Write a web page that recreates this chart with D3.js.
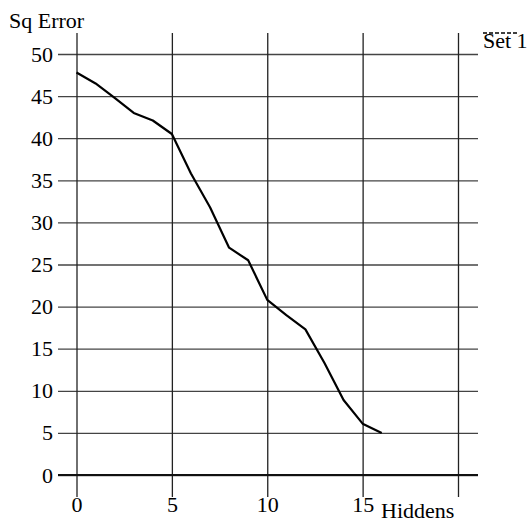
<!DOCTYPE html>
<html>
<head>
<meta charset="utf-8">
<script src="https://cdn.jsdelivr.net/npm/d3@7"></script>
<style>
  body { margin: 0; background: #fff; }
  svg { display: block; font-family: "Liberation Serif", "DejaVu Serif", serif; }
</style>
</head>
<body>
<div id="chart"></div>
<script>
// data
const hiddens = [0, 1, 2, 3, 4, 5, 6, 7, 8, 9, 10, 11, 12, 13, 14, 15, 16]
const sqError = [47.8, 46.5, 44.8, 43.0, 42.1, 40.5, 35.8, 31.8, 27.0, 25.5, 20.8, 19.0, 17.3, 13.3, 8.9, 6.1, 5.0]
const xTicks = [0, 5, 10, 15, 20]
const xLabelled = [0, 5, 10, 15]   // the last grid line has no label
const yTicks = [0, 5, 10, 15, 20, 25, 30, 35, 40, 45, 50]
const seriesName = "Set 1"

const width = 530, height = 523

const svg = d3.select("#chart").append("svg")
  .attr("width", width)
  .attr("height", height)

const x = d3.scaleLinear().domain([0, 20]).range([76.5, 458])
const y = d3.scaleLinear().domain([0, 50]).range([475, 54])

const gridLeft = 58, gridRight = 478
const gridTop = 33, gridBottom = 497

/* ------- Y GRID + LABELS -------*/
const yAxis = svg.append("g")
  .attr("transform", "translate(" + gridLeft + ",0)")
  .call(d3.axisLeft(y)
    .tickValues(yTicks)
    .tickSize(-(gridRight - gridLeft))
    .tickPadding(5)
    .tickFormat(d3.format("d")))
yAxis.select(".domain").remove()
yAxis.selectAll(".tick line")
  .attr("stroke", "#444")
  .attr("stroke-width", 1.3)
yAxis.selectAll(".tick text")
  .attr("fill", "#000")
  .style("font-size", "22px")
  .style("font-family", "Liberation Serif")

/* ------- X GRID + LABELS -------*/
const xAxis = svg.append("g")
  .attr("transform", "translate(0," + gridBottom + ")")
  .call(d3.axisBottom(x)
    .tickValues(xTicks)
    .tickSize(-(gridBottom - gridTop))
    .tickPadding(-1)
    .tickFormat(d => xLabelled.includes(d) ? d3.format("d")(d) : ""))
xAxis.select(".domain").remove()
xAxis.selectAll(".tick line")
  .attr("stroke", "#222")
  .attr("stroke-width", 1.3)
xAxis.selectAll(".tick text")
  .attr("fill", "#000")
  .style("font-size", "22px")
  .style("font-family", "Liberation Serif")

// zero line is heavier
svg.append("line")
  .attr("x1", gridLeft).attr("x2", gridRight)
  .attr("y1", y(0)).attr("y2", y(0))
  .attr("stroke", "#111")
  .attr("stroke-width", 2.2)

/* ------- SERIES -------*/
const line = d3.line()
  .x((d, i) => x(hiddens[i]))
  .y(d => y(d))

svg.append("path")
  .datum(sqError)
  .attr("d", line)
  .attr("fill", "none")
  .attr("stroke", "#000")
  .attr("stroke-width", 2.2)
  .attr("stroke-linejoin", "round")

/* ------- LABELS -------*/
svg.append("text")
  .attr("x", 9).attr("y", 28)
  .style("font-size", "22px")
  .text("Sq Error")

svg.append("text")
  .attr("x", 381).attr("y", 518)
  .style("font-size", "22px")
  .text("Hiddens")

// legend
svg.append("line")
  .attr("x1", 483).attr("x2", 518)
  .attr("y1", 33).attr("y2", 33)
  .attr("stroke", "#000")
  .attr("stroke-width", 1.5)
  .attr("stroke-dasharray", "4,2")

svg.append("text")
  .attr("x", 483).attr("y", 48)
  .style("font-size", "22px")
  .text(seriesName)
</script>
</body>
</html>
